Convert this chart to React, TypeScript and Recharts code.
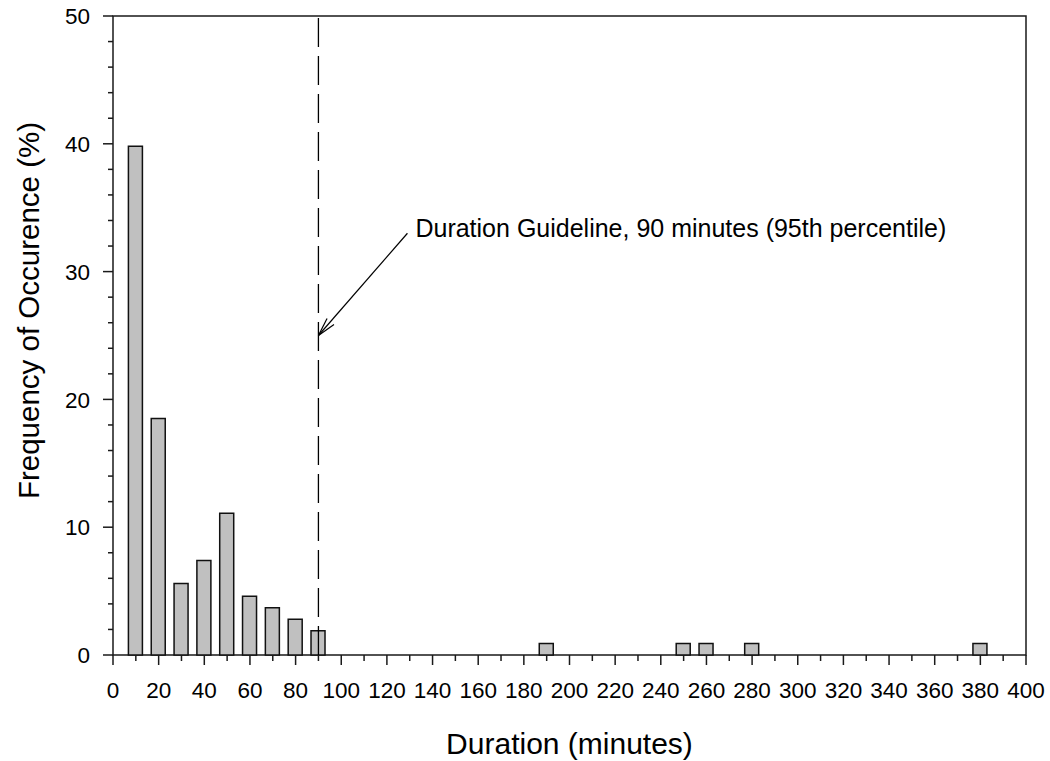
import { Bar, ComposedChart, ReferenceArea, ReferenceLine, XAxis, YAxis } from "recharts";

const durations = [10, 20, 30, 40, 50, 60, 70, 80, 90, 190, 250, 260, 280, 380];
const frequencies = [39.8, 18.5, 5.6, 7.4, 11.1, 4.6, 3.7, 2.8, 1.9, 0.9, 0.9, 0.9, 0.9, 0.9];

const xTicks = [
  0, 10, 20, 30, 40, 50, 60, 70, 80, 90, 100, 110, 120, 130, 140, 150, 160, 170, 180, 190, 200,
  210, 220, 230, 240, 250, 260, 270, 280, 290, 300, 310, 320, 330, 340, 350, 360, 370, 380, 390, 400,
];
const yTicks = [0, 2, 4, 6, 8, 10, 12, 14, 16, 18, 20, 22, 24, 26, 28, 30, 32, 34, 36, 38, 40, 42, 44, 46, 48, 50];

const guideline = 90;
const arrowStart = { x: 129, y: 33 };
const arrowTip = { x: 90, y: 25 };
const guidelineText = "Duration Guideline, 90 minutes (95th percentile)";

const data = durations.map((d, i) => ({ duration: d, freq: frequencies[i] }));

const FONT = '"Liberation Sans", Arial, sans-serif';
const INK = "#1a1a1a";

function XTick({ x, y, payload }: any) {
  const major = payload.value % 20 === 0;
  return (
    <g>
      <line x1={x} x2={x} y1={y} y2={y + (major ? 10 : 6)} stroke={INK} strokeWidth={1.5} />
      {major && (
        <text x={x} y={y + 43} textAnchor="middle" fontSize={22.5} fontFamily={FONT} fill="#000">
          {payload.value}
        </text>
      )}
    </g>
  );
}

function YTick({ x, y, payload }: any) {
  const major = payload.value % 10 === 0;
  return (
    <g>
      <line x1={x - (major ? 10 : 5)} x2={x} y1={y} y2={y} stroke={INK} strokeWidth={1.5} />
      {major && (
        <text x={x - 23} y={y} dy="0.36em" textAnchor="end" fontSize={22.5} fontFamily={FONT} fill="#000">
          {payload.value}
        </text>
      )}
    </g>
  );
}

function XTitle({ viewBox }: any) {
  return (
    <text x={viewBox.x + viewBox.width / 2} y={viewBox.y + 99} textAnchor="middle" fontSize={30} fontFamily={FONT} fill="#000">
      Duration (minutes)
    </text>
  );
}

function YTitle({ viewBox }: any) {
  const cx = viewBox.x + 28;
  const cy = viewBox.y + viewBox.height / 2 - 25;
  return (
    <text
      x={cx}
      y={cy}
      dy="0.36em"
      transform={`rotate(-90, ${cx}, ${cy})`}
      textAnchor="middle"
      fontSize={29.5}
      fontFamily={FONT}
      fill="#000"
    >
      Frequency of Occurence (%)
    </text>
  );
}

function ArrowShape({ x1, y1, x2, y2 }: any) {
  const dx = x1 - x2;
  const dy = y1 - y2;
  const len = Math.hypot(dx, dy);
  const ux = dx / len;
  const uy = dy / len;
  const a = (14 * Math.PI) / 180;
  const w = 19;
  const wing = (s: number) => ({
    x: x2 + w * (ux * Math.cos(s * a) - uy * Math.sin(s * a)),
    y: y2 + w * (ux * Math.sin(s * a) + uy * Math.cos(s * a)),
  });
  const w1 = wing(1);
  const w2 = wing(-1);
  return (
    <g>
      <line x1={x1} y1={y1} x2={x2} y2={y2} stroke="#000" strokeWidth={1.2} />
      <line x1={x2} y1={y2} x2={w1.x} y2={w1.y} stroke="#000" strokeWidth={1.2} />
      <line x1={x2} y1={y2} x2={w2.x} y2={w2.y} stroke="#000" strokeWidth={1.2} />
      <text x={x1 + 8} y={y1 + 4} fontSize={25} fontFamily={FONT} fill="#000">
        {guidelineText}
      </text>
    </g>
  );
}

export default function App() {
  return (
    <div style={{ position: "absolute", left: 0, top: 0, width: 1050, height: 761, background: "#fff" }}>
      <ComposedChart width={1050} height={761} data={data} margin={{ top: 16, right: 24, bottom: 0, left: 0 }}>
        <XAxis
          dataKey="duration"
          type="number"
          domain={[0, 400]}
          ticks={xTicks}
          interval={0}
          axisLine={false}
          tickLine={false}
          tickSize={0}
          tickMargin={0}
          height={106}
          tick={<XTick />}
          label={<XTitle />}
        />
        <YAxis
          type="number"
          domain={[0, 50]}
          ticks={yTicks}
          interval={0}
          axisLine={false}
          tickLine={false}
          tickSize={0}
          tickMargin={0}
          width={113}
          tick={<YTick />}
          label={<YTitle />}
        />
        <ReferenceLine x={guideline} stroke="#000" strokeWidth={1.3} strokeDasharray="29 9" ifOverflow="extendDomain" />
        <Bar dataKey="freq" barSize={14} fill="#c0c0c0" stroke="#111" strokeWidth={1.5} isAnimationActive={false} />
        <ReferenceLine segment={[arrowStart, arrowTip]} shape={<ArrowShape />} />
        <ReferenceArea x1={0} x2={400} y1={0} y2={50} fill="none" stroke={INK} strokeWidth={1.5} />
      </ComposedChart>
    </div>
  );
}
